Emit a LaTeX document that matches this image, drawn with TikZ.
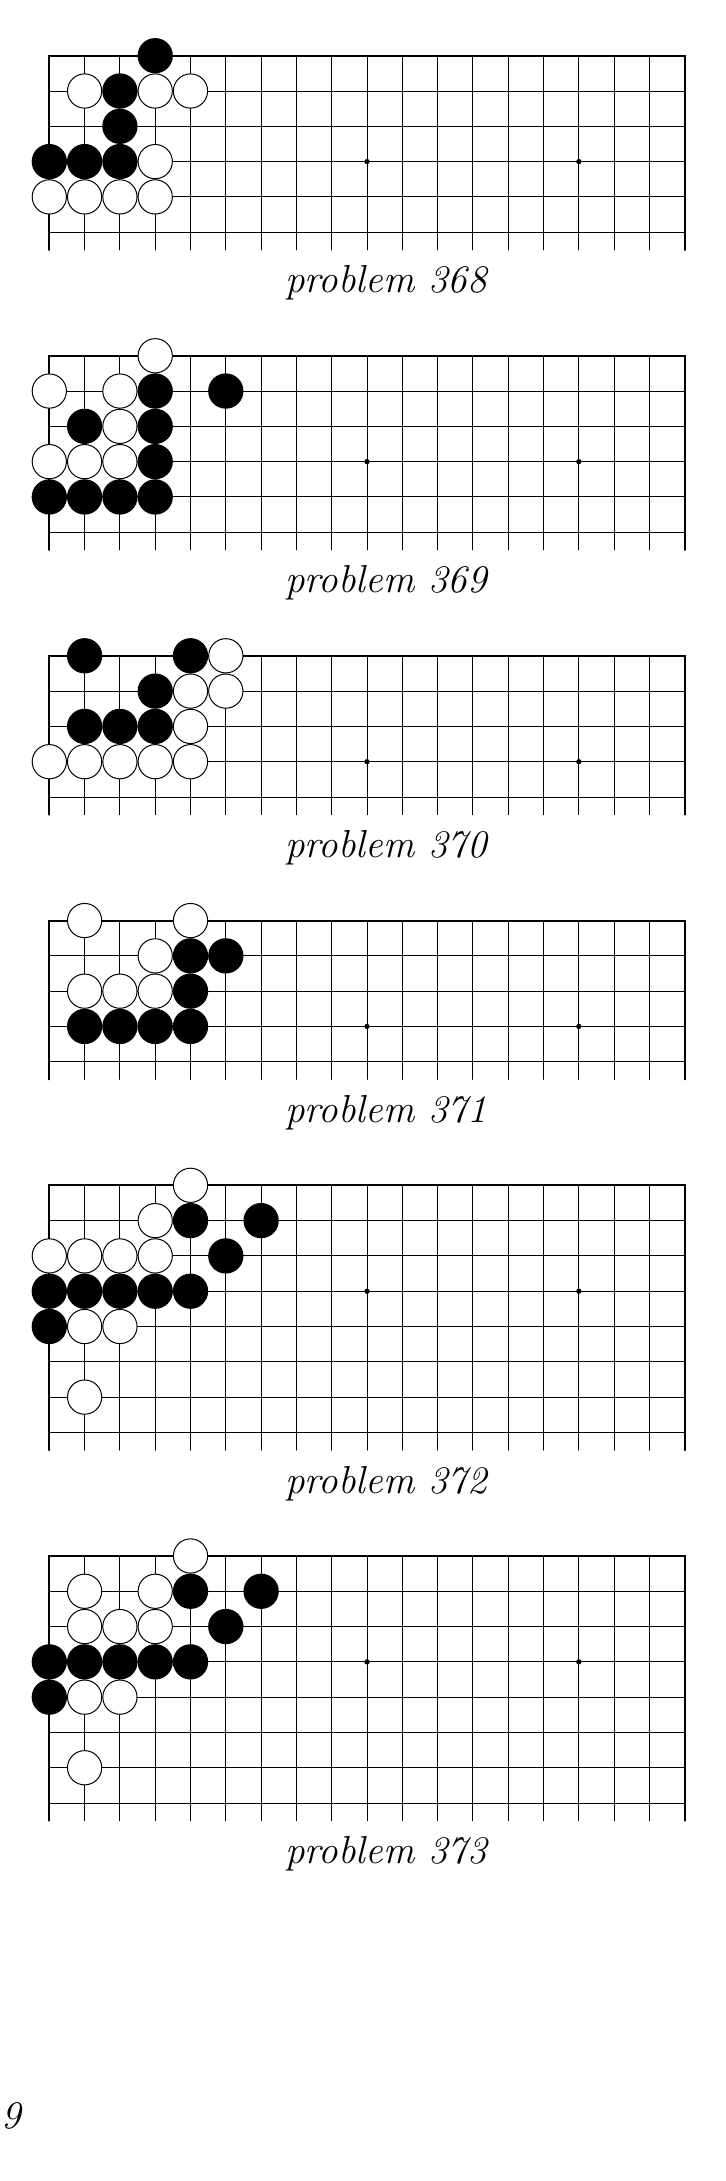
\documentclass[tikz,border=0pt]{standalone}
\usepackage{fontspec}
\usepackage{tikz}

\begin{document}
\begin{tikzpicture}[x=0.62cm,y=0.62cm,line cap=round,
  lines/.style={line width=0.5pt},
  rim/.style={line width=1pt},
  bstone/.style={fill=black},
  wstone/.style={draw=black,fill=white,line width=0.5pt},
  caption/.style={anchor=base,font=\fontsize{19.5}{23}\selectfont\itshape}]
\useasboundingbox (-1.397,0) rectangle (19.142,-61.785);
% problem 368
\begin{scope}[shift={(0,-1.578)}]
\draw[lines] (0,0) grid[xstep=1,ystep=1] (18,-5.5);
\draw[rim] (0,-5.5) -- (0,0) -- (18,0) -- (18,-5.5);
\fill (9,-3) circle (0.075) (15,-3) circle (0.075);
\foreach \x/\y in {3/0,2/1,2/2,0/3,1/3,2/3} \fill[bstone] (\x,-\y) circle (0.5);
\foreach \x/\y in {1/1,3/1,4/1,3/3,0/4,1/4,2/4,3/4} \draw[wstone] (\x,-\y) circle (0.485);
\node[caption] (p368) at (9.535,-6.72) {problem 368};
\end{scope}
% problem 369
\begin{scope}[shift={(0,-10.078)}]
\draw[lines] (0,0) grid[xstep=1,ystep=1] (18,-5.5);
\draw[rim] (0,-5.5) -- (0,0) -- (18,0) -- (18,-5.5);
\fill (9,-3) circle (0.075) (15,-3) circle (0.075);
\foreach \x/\y in {3/1,5/1,1/2,3/2,3/3,0/4,1/4,2/4,3/4} \fill[bstone] (\x,-\y) circle (0.5);
\foreach \x/\y in {3/0,0/1,2/1,2/2,0/3,1/3,2/3} \draw[wstone] (\x,-\y) circle (0.485);
\node[caption] (p369) at (9.535,-6.72) {problem 369};
\end{scope}
% problem 370
\begin{scope}[shift={(0,-18.578)}]
\draw[lines] (0,0) grid[xstep=1,ystep=1] (18,-4.5);
\draw[rim] (0,-4.5) -- (0,0) -- (18,0) -- (18,-4.5);
\fill (9,-3) circle (0.075) (15,-3) circle (0.075);
\foreach \x/\y in {1/0,4/0,3/1,1/2,2/2,3/2} \fill[bstone] (\x,-\y) circle (0.5);
\foreach \x/\y in {5/0,4/1,5/1,4/2,0/3,1/3,2/3,3/3,4/3} \draw[wstone] (\x,-\y) circle (0.485);
\node[caption] (p370) at (9.535,-5.72) {problem 370};
\end{scope}
% problem 371
\begin{scope}[shift={(0,-26.078)}]
\draw[lines] (0,0) grid[xstep=1,ystep=1] (18,-4.5);
\draw[rim] (0,-4.5) -- (0,0) -- (18,0) -- (18,-4.5);
\fill (9,-3) circle (0.075) (15,-3) circle (0.075);
\foreach \x/\y in {4/1,5/1,4/2,1/3,2/3,3/3,4/3} \fill[bstone] (\x,-\y) circle (0.5);
\foreach \x/\y in {1/0,4/0,3/1,1/2,2/2,3/2} \draw[wstone] (\x,-\y) circle (0.485);
\node[caption] (p371) at (9.535,-5.72) {problem 371};
\end{scope}
% problem 372
\begin{scope}[shift={(0,-33.578)}]
\draw[lines] (0,0) grid[xstep=1,ystep=1] (18,-7.5);
\draw[rim] (0,-7.5) -- (0,0) -- (18,0) -- (18,-7.5);
\fill (9,-3) circle (0.075) (15,-3) circle (0.075);
\foreach \x/\y in {4/1,6/1,5/2,0/3,1/3,2/3,3/3,4/3,0/4} \fill[bstone] (\x,-\y) circle (0.5);
\foreach \x/\y in {4/0,3/1,0/2,1/2,2/2,3/2,1/4,2/4,1/6} \draw[wstone] (\x,-\y) circle (0.485);
\node[caption] (p372) at (9.535,-8.72) {problem 372};
\end{scope}
% problem 373
\begin{scope}[shift={(0,-44.078)}]
\draw[lines] (0,0) grid[xstep=1,ystep=1] (18,-7.5);
\draw[rim] (0,-7.5) -- (0,0) -- (18,0) -- (18,-7.5);
\fill (9,-3) circle (0.075) (15,-3) circle (0.075);
\foreach \x/\y in {4/1,6/1,5/2,0/3,1/3,2/3,3/3,4/3,0/4} \fill[bstone] (\x,-\y) circle (0.5);
\foreach \x/\y in {4/0,1/1,3/1,1/2,2/2,3/2,1/4,2/4,1/6} \draw[wstone] (\x,-\y) circle (0.485);
\node[caption] (p373) at (9.535,-8.72) {problem 373};
\end{scope}
% page number
\node[caption,anchor=base west,inner sep=0pt] (folio) at (-1.38,-60.31) {9};
\end{tikzpicture}
\end{document}
